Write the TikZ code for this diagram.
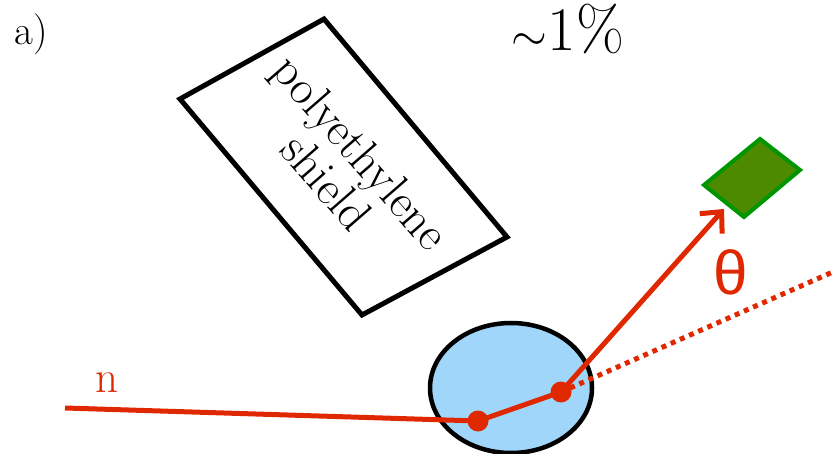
\documentclass[tikz,border=0pt]{standalone}
\usepackage{fontspec}
\usetikzlibrary{arrows.meta}
\newfontfamily\thetafont{Liberation Sans}
\definecolor{figR}{RGB}{224,40,0}
\definecolor{figB}{RGB}{160,214,250}
\definecolor{figG}{RGB}{78,138,0}
\definecolor{figGd}{RGB}{0,150,0}

\begin{document}
\begin{tikzpicture}[x=1pt,y=-1pt,>={Straight Barb[length=16pt,width=30pt]}]
\useasboundingbox (0,0) rectangle (835,454);
\node[font=\fontsize{41}{48}\selectfont,anchor=base west,inner sep=0] (panel) at (14,45) {a)};
\node[font=\fontsize{62}{70}\selectfont,anchor=base,inner sep=0] (frac) at (568,51) {{\fontsize{10}{12}\selectfont\scalebox{4.6}{$\sim$}}1\%};
% shield
\draw[line width=5pt] (180,99)--(324,19)--(507,237)--(362,315)--cycle;
\node[rotate=-49,align=center,font=\fontsize{48}{46}\selectfont] (shield) at (344,167) {polyethylene\\shield};
% target and detector
\filldraw[fill=figB,line width=4.5pt] (511,388) ellipse [x radius=81, y radius=65];
\filldraw[fill=figG,draw=figGd,line width=4pt] (704,185)--(760,139)--(800,170)--(744,217)--cycle;
% neutron path
\coordinate (src) at (65,408);
\coordinate (v1) at (478,421);
\coordinate (v2) at (561,392);
\coordinate (tip) at (724,209);
\coordinate (fwd) at (835,271);
\draw[figR,line width=5pt] (src)--(v1)--(v2);
\draw[figR,line width=5pt,->] (v2)--(tip);
\draw[figR,line width=5pt,dash pattern=on 5pt off 5pt] (v2)--(fwd);
\fill[figR] (v1) circle (10.5) (v2) circle (10.5);
\node[figR,font=\fontsize{45}{50}\selectfont,anchor=base,inner sep=0] (nlbl) at (107,392) {n};
\node[figR,font=\thetafont\fontsize{62}{70}\selectfont,inner sep=0] (theta) at (731,272) {θ};
\end{tikzpicture}
\end{document}
